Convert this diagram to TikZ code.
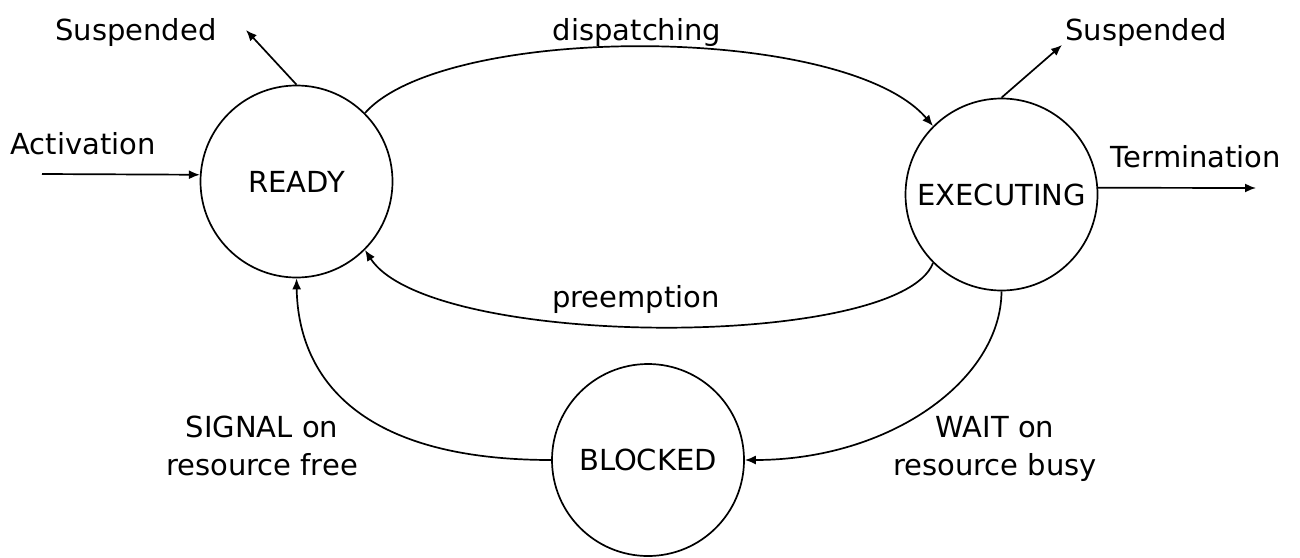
\documentclass[tikz,border=0pt]{standalone}
\usepackage{fontspec}
\setmainfont{DejaVu Sans}
\usetikzlibrary{arrows.meta}
\begin{document}
\begin{tikzpicture}[x=0.5pt,y=-0.5pt,
  state/.style={draw,circle,line width=0.85pt,minimum size=96pt,inner sep=0pt,
    font=\fontsize{14.5pt}{19pt}\selectfont},
  lbl/.style={anchor=base,inner sep=0pt,align=center,
    font=\fontsize{14.5pt}{19pt}\selectfont},
  conn/.style={line width=0.85pt,-{Latex[length=5.5pt,width=4.5pt]}}]
\useasboundingbox (0,0) rectangle (1300,557);
\node[state] (ready) at (296.5,181.5) {READY};
\node[state] (exec) at (1001.5,194.5) {EXECUTING};
\node[state] (blocked) at (648,460) {BLOCKED};
\coordinate (act) at (42,174);
\coordinate (susL) at (246,30);
\coordinate (susR) at (1062,45);
\coordinate (term) at (1256,188);
\node[lbl] (lact) at (83,154) {Activation};
\node[lbl] (lsusL) at (136,40) {Suspended};
\node[lbl] (lsusR) at (1146,40) {Suspended};
\node[lbl] (ldisp) at (637,40) {dispatching};
\node[lbl] (lpre) at (636,307) {preemption};
\node[lbl] (lterm) at (1196,167) {Termination};
\node[lbl] (lsig) at (262,475) {SIGNAL on\\resource free};
\node[lbl] (lwait) at (995,475) {WAIT on\\resource busy};
\draw[conn] (act) -- (ready.176);
\draw[conn] (ready.north) -- (susL);
\draw[conn] (exec.north) -- (susR);
\draw[conn] (exec.4) -- (term);
\draw[conn] (ready.45) .. controls (445,23) and (845,23) .. (exec.135);
\draw[conn] (exec.225) .. controls (900,350) and (430,350) .. (ready.-45);
\draw[conn] (exec.south) .. controls (1001,380) and (890,460) .. (blocked.east);
\draw[conn] (blocked.west) .. controls (350,460) and (298,370) .. (ready.south);
\end{tikzpicture}
\end{document}
